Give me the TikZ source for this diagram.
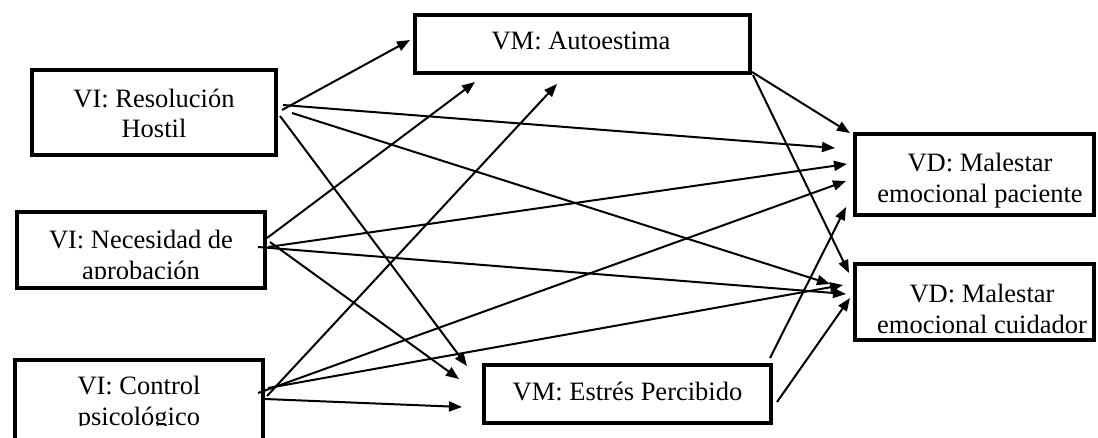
\documentclass[tikz,border=0pt]{standalone}
\usepackage{fontspec}
\setmainfont{Liberation Serif}
\usetikzlibrary{arrows.meta}
\begin{document}
\begin{tikzpicture}[x=1pt,y=-1pt,
  box/.style={draw=black, line width=4.4pt, rectangle, inner sep=0pt},
  lbl/.style={font=\fontsize{26.5}{30.5}\selectfont, align=center, inner sep=0pt},
  link/.style={line width=2pt, -{Triangle[length=13pt,width=10pt]}},
]
\useasboundingbox (0,0) rectangle (1098,437);

% boxes
\node[box, minimum width=244pt, minimum height=85pt] (res) at (154,112.5) {};
\node[box, minimum width=248pt, minimum height=76pt] (nec) at (141,250) {};
\node[box, minimum width=248pt, minimum height=100pt] (con) at (139,410) {};
\node[box, minimum width=335pt, minimum height=58pt] (aut) at (582.5,44) {};
\node[box, minimum width=287pt, minimum height=58pt] (est) at (627.5,394) {};
\node[box, minimum width=239pt, minimum height=81pt] (pac) at (974.5,174.5) {};
\node[box, minimum width=239pt, minimum height=76pt] (cui) at (974.5,302) {};

% labels
\node[lbl] (resT) at (154,113.4) {VI: Resolución\\Hostil};
\begin{scope}
  \clip (17,212) rectangle (265,278.5);
  \node[lbl] (necT) at (141,257.5) {VI: Necesidad de\\aprobación};
\end{scope}
\begin{scope}
  \clip (15,360) rectangle (263,425.5);
  \node[lbl] (conT) at (139,403.5) {VI: Control\\psicológico};
\end{scope}
\node[lbl] (autT) at (581,41.4) {VM: Autoestima};
\node[lbl] (estT) at (627.5,391) {VM: Estrés Percibido};
\node[lbl] (pacT) at (980,180.4) {VD: Malestar\\emocional paciente};
\node[lbl] (cuiT) at (982,309) {VD: Malestar\\emocional cuidador};

% connector ends
\coordinate (rA) at (282,110);  \coordinate (tRA) at (410,40);
\coordinate (rP) at (283,105);  \coordinate (tRP) at (835,148);
\coordinate (rC) at (292,113);  \coordinate (tRC) at (830,284);
\coordinate (rE) at (280,116);  \coordinate (tRE) at (467,366);

\coordinate (nA) at (267,238);  \coordinate (tNA) at (475,82);
\coordinate (nP) at (268,247);  \coordinate (tNP) at (847,164);
\coordinate (nC) at (258,247);  \coordinate (tNC) at (846,294);
\coordinate (nE) at (270,242);  \coordinate (tNE) at (459,379);

\coordinate (cA) at (267,396);  \coordinate (tCA) at (557,84);
\coordinate (cP) at (258,393);  \coordinate (tCP) at (846,181);
\coordinate (cC) at (268,388);  \coordinate (tCC) at (843,285);
\coordinate (cE) at (265,399);  \coordinate (tCE) at (462,407);

\coordinate (aP) at (752,72);   \coordinate (tAP) at (850,133);
\coordinate (aC) at (753,75);   \coordinate (tAC) at (849,273);

\coordinate (eP) at (770,358);  \coordinate (tEP) at (846,207);
\coordinate (eC) at (777,402);  \coordinate (tEC) at (850,298);

% connectors
\foreach \s/\t in {rA/tRA, rP/tRP, rC/tRC, rE/tRE,
                   nA/tNA, nP/tNP, nC/tNC, nE/tNE,
                   cA/tCA, cP/tCP, cC/tCC, cE/tCE,
                   aP/tAP, aC/tAC, eP/tEP, eC/tEC}
  \draw[link] (\s) -- (\t);
\end{tikzpicture}
\end{document}
